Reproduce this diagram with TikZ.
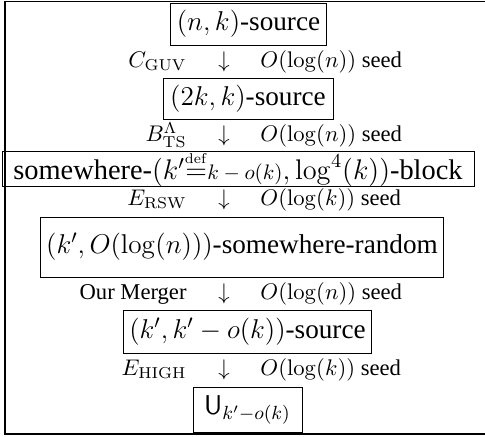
\RequirePackage{fix-cm}
\documentclass[tikz,border=0pt]{standalone}
\usepackage{amsmath,amssymb}
\usepackage[no-math]{fontspec}
\setmainfont{Liberation Serif}
\usetikzlibrary{positioning}
\tikzset{
  stage/.style={draw,line width=0.45pt,inner xsep=3pt,inner ysep=0pt,font=\fontsize{13.6}{16}\selectfont},
  stepmark/.style={inner sep=0pt,anchor=base,font=\fontsize{11.3}{13}\selectfont},
  steplabel/.style={inner sep=0pt,font=\fontsize{11.3}{13}\selectfont}
}

\begin{document}
\begin{tikzpicture}
  \useasboundingbox (0,0) rectangle (242.5pt,-218.5pt);
  \clip (0,0) rectangle (242.5pt,-218.5pt);
  \draw[line width=0.6pt] (2.5pt,-0.6pt) rectangle (252pt,-217pt);
  % the chain of sources
  \node[stage,minimum height=21pt] (nk) at (124.25pt,-12pt) {$(n,k)$-source};
  \node[stage,minimum height=20.5pt,minimum width=85pt] (tk) at (124pt,-49.25pt) {$(2k,k)$-source};
  \node[stage,minimum height=15pt,minimum width=236pt,font=\fontsize{14.2}{16}\selectfont] (blk) at (119pt,-84.5pt)
    {somewhere-$(k'{\overset{\scriptscriptstyle\mathrm{def}}{=}}\text{\fontsize{10.5}{12}\selectfont$k-o(k)$},\log^4(k))$-block};
  \node[stage,minimum height=30pt,minimum width=196pt] (swr) at (121pt,-123.5pt) {$(k',O(\log(n)))$-somewhere-random};
  \node[stage,minimum height=21.5pt] (kk) at (123.75pt,-165.75pt) {$(k',k'-o(k))$-source};
  \node[stage,minimum height=22.5pt,minimum width=54.5pt] (unif) at (123.75pt,-204.75pt) {$\mathsf{U}_{k'-o(k)}$};
  % the steps between them
  \node[stepmark] (d1) at (112pt,-33.75pt) {$\downarrow$};
  \node[stepmark] (d2) at (112pt,-70.75pt) {$\downarrow$};
  \node[stepmark] (d3) at (112pt,-102.75pt) {$\downarrow$};
  \node[stepmark] (d4) at (112pt,-149.75pt) {$\downarrow$};
  \node[stepmark] (d5) at (112pt,-187.75pt) {$\downarrow$};
  \node[steplabel,base left=15.5pt of d1] (e1) {$C_{\mathrm{GUV}}$};
  \node[steplabel,base left=15.5pt of d2] (e2) {$B_{\mathrm{TS}}^{\Lambda}$};
  \node[steplabel,base left=15.5pt of d3] (e3) {$E_{\mathrm{RSW}}$};
  \node[steplabel,base left=15.5pt of d4] (e4) {Our Merger};
  \node[steplabel,base left=15.5pt of d5] (e5) {$E_{\mathrm{HIGH}}$};
  \node[steplabel,base right=15pt of d1] (s1) {$O(\log(n))$ seed};
  \node[steplabel,base right=15pt of d2] (s2) {$O(\log(n))$ seed};
  \node[steplabel,base right=15pt of d3] (s3) {$O(\log(k))$ seed};
  \node[steplabel,base right=15pt of d4] (s4) {$O(\log(n))$ seed};
  \node[steplabel,base right=15pt of d5] (s5) {$O(\log(k))$ seed};
\end{tikzpicture}
\end{document}
